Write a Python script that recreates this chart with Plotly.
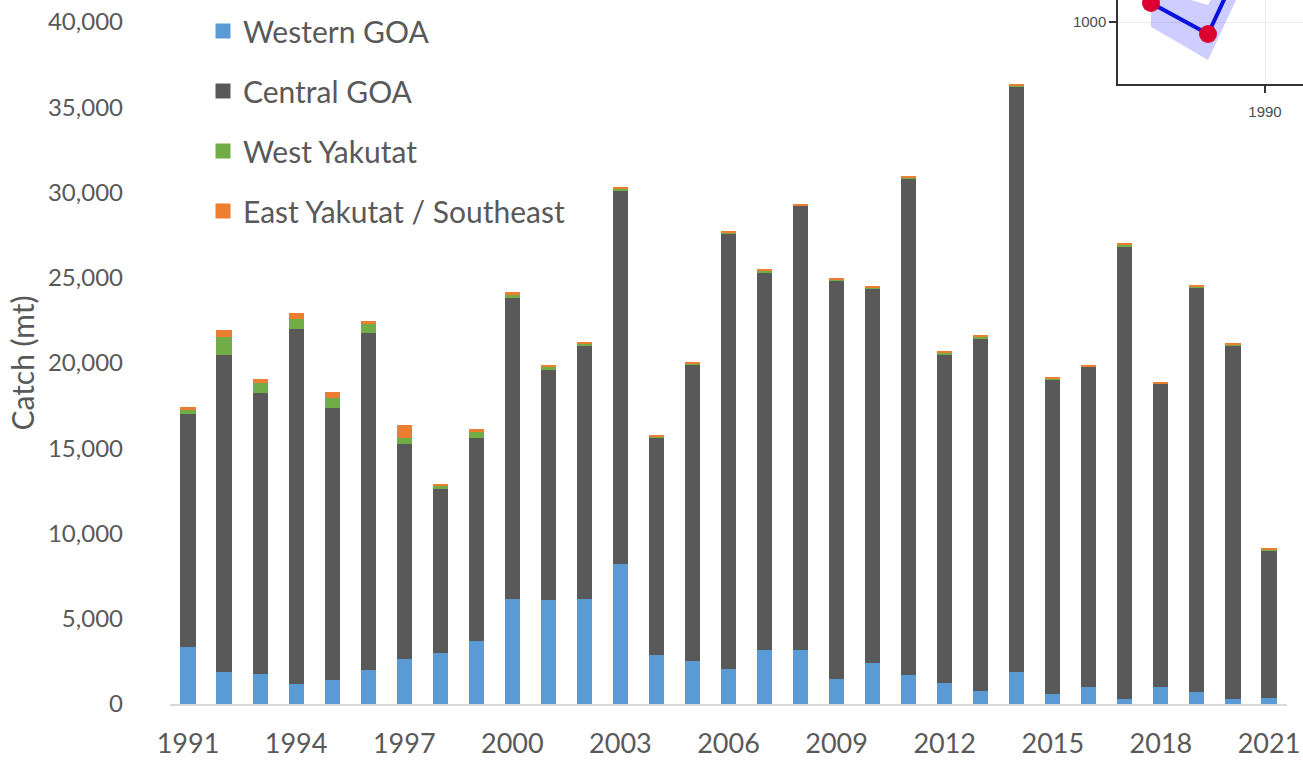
import plotly.graph_objects as go

# Annual catch (mt) by Gulf of Alaska management area
years = list(range(1991, 2022))
western_goa = [3330, 1890, 1770, 1200, 1380, 2000, 2650, 2980, 3680, 6165,
               6105, 6165, 8190, 2880, 2530, 2060, 3150, 3175, 1475, 2415,
               1685, 1260, 790, 1905, 575, 1025, 280, 1025, 690, 280, 340]
central_goa = [13676, 18590, 16500, 20790, 16010, 19750, 12615, 9650, 11937, 17673,
               13456, 14884, 21942, 12737, 17365, 25529, 22153, 26037, 23342, 21933,
               29080, 19250, 20646, 34298, 18441, 18753, 26547, 17756, 23717, 20728, 8655]
west_yakutat = [293, 1037, 528, 603, 586, 563, 352, 180, 352, 141,
                217, 117, 94, 100, 70, 70, 117, 25, 70, 100,
                120, 90, 100, 100, 60, 20, 100, 15, 100, 100, 70]
east_yakutat_se = [117, 428, 275, 311, 317, 176, 744, 110, 175, 194,
                   117, 77, 117, 76, 47, 47, 100, 34, 47, 76,
                   85, 57, 58, 58, 57, 38, 58, 44, 58, 58, 47]
x_tick_years = list(range(1991, 2022, 3))
y_ticks = list(range(0, 40001, 5000))

# Small time-series panel in the upper right corner
inset_years = [1985, 1986, 1988, 1989]
inset_values = [1820, 1190, 880, 1490]
band_years = [1986, 1988, 1989]
band_low = [953, 620, 1230]
band_high = [1338, 1170, 1700]

series = [
    ("Western GOA", western_goa, "#5B9BD5"),
    ("Central GOA", central_goa, "#595959"),
    ("West Yakutat", west_yakutat, "#70AD47"),
    ("East Yakutat / Southeast", east_yakutat_se, "#ED7D31"),
]

text_color = "#595959"
font_family = "Lato"

fig = go.Figure()
for name, values, color in series:
    fig.add_trace(go.Bar(x=years, y=values, name=name, marker_color=color,
                         marker_line_width=0, showlegend=False,
                         xaxis="x", yaxis="y"))
# legend entries with larger square swatches
for name, values, color in series:
    fig.add_trace(go.Scatter(x=[None], y=[None], mode="markers", name=name,
                             legendgroup=name,
                             marker=dict(symbol="square", size=15, color=color),
                             xaxis="x", yaxis="y"))

# inset: confidence band, line and points
fig.add_trace(go.Scatter(x=band_years, y=band_high, mode="lines",
                         line=dict(width=0), showlegend=False,
                         xaxis="x2", yaxis="y2", hoverinfo="skip"))
fig.add_trace(go.Scatter(x=band_years, y=band_low, mode="lines",
                         line=dict(width=0), fill="tonexty",
                         fillcolor="rgba(90,90,255,0.3)", showlegend=False,
                         xaxis="x2", yaxis="y2", hoverinfo="skip"))
fig.add_trace(go.Scatter(x=inset_years, y=inset_values, mode="lines+markers",
                         line=dict(color="#0a10dd", width=4),
                         marker=dict(color="#dc0030", size=18),
                         showlegend=False, xaxis="x2", yaxis="y2"))

W, H = 1303, 761
ML, MB = 170, 57
plot_w = W - ML
plot_h = H - MB
x_end = 1287
y_top = 22

fig.update_layout(
    width=W, height=H,
    margin=dict(l=ML, r=0, t=0, b=MB, pad=0),
    paper_bgcolor="white", plot_bgcolor="white",
    barmode="stack", bargap=0.58,
    font=dict(family=font_family, color=text_color),
    legend=dict(
        x=(203 - ML) / plot_w, y=1.0 - 5 / plot_h, xanchor="left", yanchor="top",
        traceorder="grouped", tracegroupgap=18,
        font=dict(size=30, color=text_color, family=font_family),
        bgcolor="rgba(0,0,0,0)",
    ),
    xaxis=dict(
        domain=[0, (x_end - ML) / plot_w],
        range=[1990.5, 2021.5],
        tickmode="array", tickvals=x_tick_years,
        showline=True, linecolor="#d9d9d9", linewidth=1.5,
        showgrid=False, zeroline=False, ticks="",
        tickfont=dict(size=27, color=text_color, family=font_family),
        ticklabelstandoff=15,
        automargin=False,
    ),
    yaxis=dict(
        domain=[0, (plot_h - y_top) / plot_h],
        range=[0, 40000],
        tickmode="array", tickvals=y_ticks, tickformat=",",
        showline=False, showgrid=False, zeroline=False, ticks="",
        tickfont=dict(size=24, color=text_color, family=font_family),
        ticklabelstandoff=46,
        title=dict(text="Catch (mt)", standoff=4,
                   font=dict(size=30, color=text_color, family=font_family)),
        automargin=False,
    ),
    xaxis2=dict(
        domain=[(1118 - ML) / plot_w, 1.0], anchor="y2",
        range=[1984.842, 1991.333], dtick=10, tick0=1990,
        showline=True, linecolor="#333333", linewidth=1.5, mirror=False,
        ticks="outside", ticklen=7, tickwidth=1.5, tickcolor="#333333",
        showgrid=True, gridcolor="#ebebeb", zeroline=False,
        tickfont=dict(size=15, color="#4d4d4d", family="Liberation Sans"),
        ticklabelstandoff=6,
    ),
    yaxis2=dict(
        domain=[(plot_h - 84) / plot_h, 1.0], anchor="x2",
        range=[380, 1220], dtick=1000, tick0=0,
        showline=True, linecolor="#333333", linewidth=1.5, mirror=False,
        ticks="outside", ticklen=7, tickwidth=1.5, tickcolor="#333333",
        showgrid=True, gridcolor="#ebebeb", zeroline=False,
        tickfont=dict(size=15, color="#4d4d4d", family="Liberation Sans"),
    ),
)

fig.write_html("out.html")
